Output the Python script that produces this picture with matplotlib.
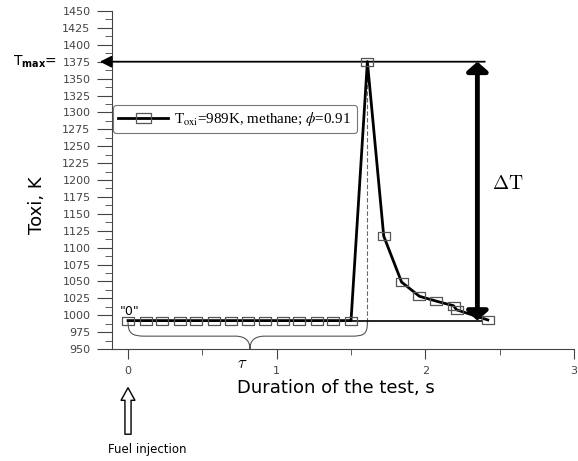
import numpy as np
import matplotlib
matplotlib.use('Agg')
import matplotlib.pyplot as plt
from matplotlib.path import Path
from matplotlib.patches import PathPatch, FancyArrowPatch
from matplotlib.ticker import MultipleLocator

## Data

# duration of the test, s
t_test = [0.0, 0.12, 0.23, 0.35, 0.46, 0.58, 0.69, 0.81, 0.92, 1.04, 1.15, 1.27, 1.38, 1.50,
          1.61, 1.72, 1.84, 1.96, 2.07, 2.19, 2.21, 2.42]
# oxidizer temperature, K
T_oxi = [992, 992, 992, 992, 992, 992, 992, 992, 992, 992, 992, 992, 992, 992,
         1375, 1117, 1049, 1028, 1021, 1014, 1008, 993]

T_base = 992
T_max = 1375
t_peak = 1.61
t_tau = 0.82
t_dT = 2.35
legend_label = r'T$_{\mathrm{oxi}}$=989K, methane; $\phi$=0.91'

fig = plt.figure(figsize=(5.78, 4.61), dpi=100)
ax = fig.add_axes([112/578, 1-349/461, 462/578, 338/461])

# small flat squares as in the original
rect = Path([(-1, -0.72), (1, -0.72), (1, 0.72), (-1, 0.72), (-1, -0.72)],
            [Path.MOVETO, Path.LINETO, Path.LINETO, Path.LINETO, Path.CLOSEPOLY])

ax.plot(t_test, T_oxi, color='black', lw=2.0, marker=rect, ms=8,
        mfc='none', mec='#555555', mew=0.9, label=legend_label, zorder=4)

# reference lines
ax.plot([0, 2.38], [T_base, T_base], color='black', lw=1.2, zorder=3)
ax.annotate('', xy=(-0.19, T_max), xytext=(2.40, T_max),
            arrowprops=dict(arrowstyle='-|>,head_length=0.5,head_width=0.25', color='black',
                            lw=1.3, mutation_scale=14, shrinkA=0, shrinkB=0),
            annotation_clip=False)
ax.plot([t_peak, t_peak], [990, T_max], color='#666666', lw=0.8, ls=(0, (4, 2)))

# delta T arrow
ax.annotate('', xy=(t_dT, T_max), xytext=(t_dT, T_base),
            arrowprops=dict(arrowstyle='<|-|>,head_length=0.35,head_width=0.4', color='black',
                            lw=3.5, mutation_scale=16, shrinkA=0, shrinkB=0))
ax.text(2.45, 1195, r'$\Delta\mathrm{T}$', math_fontfamily='cm', fontsize=14, va='center')

# brace for the induction time
verts = [(0.0, 990), (0.0, 972), (0.03, 969), (0.12, 969),
         (t_tau - 0.10, 969),
         (t_tau - 0.03, 969), (t_tau, 962), (t_tau, 950),
         (t_tau, 962), (t_tau + 0.03, 969), (t_tau + 0.10, 969),
         (1.50, 969),
         (1.59, 969), (t_peak, 972), (t_peak, 990)]
codes = [Path.MOVETO, Path.CURVE4, Path.CURVE4, Path.CURVE4,
         Path.LINETO,
         Path.CURVE4, Path.CURVE4, Path.CURVE4,
         Path.CURVE4, Path.CURVE4, Path.CURVE4,
         Path.LINETO,
         Path.CURVE4, Path.CURVE4, Path.CURVE4]
ax.add_patch(PathPatch(Path(verts, codes), fill=False, ec='#555555', lw=0.8, clip_on=False))
ax.text(t_tau - 0.05, 942, r'$\tau$', math_fontfamily='cm', fontsize=12,
        ha='center', va='top', clip_on=False)
ax.text(0.01, 1005, '"0"', fontsize=9, ha='center', va='center')

# axes look
ax.set_xlim(-0.108, 3.0)
ax.set_ylim(950, 1450)
for s in ['top', 'right']:
    ax.spines[s].set_visible(False)
for s in ['left', 'bottom']:
    ax.spines[s].set_color('#444444')
ax.yaxis.set_major_locator(MultipleLocator(25))
ax.yaxis.set_minor_locator(MultipleLocator(12.5))
ax.xaxis.set_major_locator(MultipleLocator(1))
ax.xaxis.set_minor_locator(MultipleLocator(0.5))
ax.tick_params(axis='y', which='major', length=10.5, pad=5, labelsize=8, colors='#444444')
ax.tick_params(axis='y', which='minor', length=5, colors='#444444')
ax.tick_params(axis='x', which='major', length=7, pad=5, labelsize=8, colors='#444444')
ax.tick_params(axis='x', which='minor', length=4.5, colors='#444444')

fig.text(336/578, 1-388/461, 'Duration of the test, s', fontsize=13, ha='center', va='center')
fig.text(37/578, 1-205/461, 'Toxi, K', fontsize=13, rotation=90, ha='center', va='center')

# T max label
fig.text(13/578, 1-62/461, r'T$_{\mathbf{max}}$=', fontsize=10, ha='left', va='center')

# legend
leg = ax.legend(loc='upper left', bbox_to_anchor=(0.002, 0.722), borderaxespad=0,
                fancybox=True, edgecolor='#777777', framealpha=1,
                prop={'family': 'Liberation Serif', 'size': 10.8},
                handlelength=3.3, handletextpad=0.45, markerscale=1.35, borderpad=0.35)
leg.get_frame().set_linewidth(0.8)
for txt in leg.get_texts():
    txt.set_math_fontfamily('stix')

# fuel injection arrow
fig.patches.append(FancyArrowPatch((128/578, 1-437/461), (128/578, 1-385/461),
                                   transform=fig.transFigure, figure=fig,
                                   arrowstyle='simple,head_length=0.45,head_width=0.5,tail_width=0.22',
                                   mutation_scale=20, fc='white', ec='black', lw=1))
fig.text(108/578, 1-449/461, 'Fuel injection', fontsize=8.5, ha='left', va='center')

plt.savefig('out.png', dpi=100)
